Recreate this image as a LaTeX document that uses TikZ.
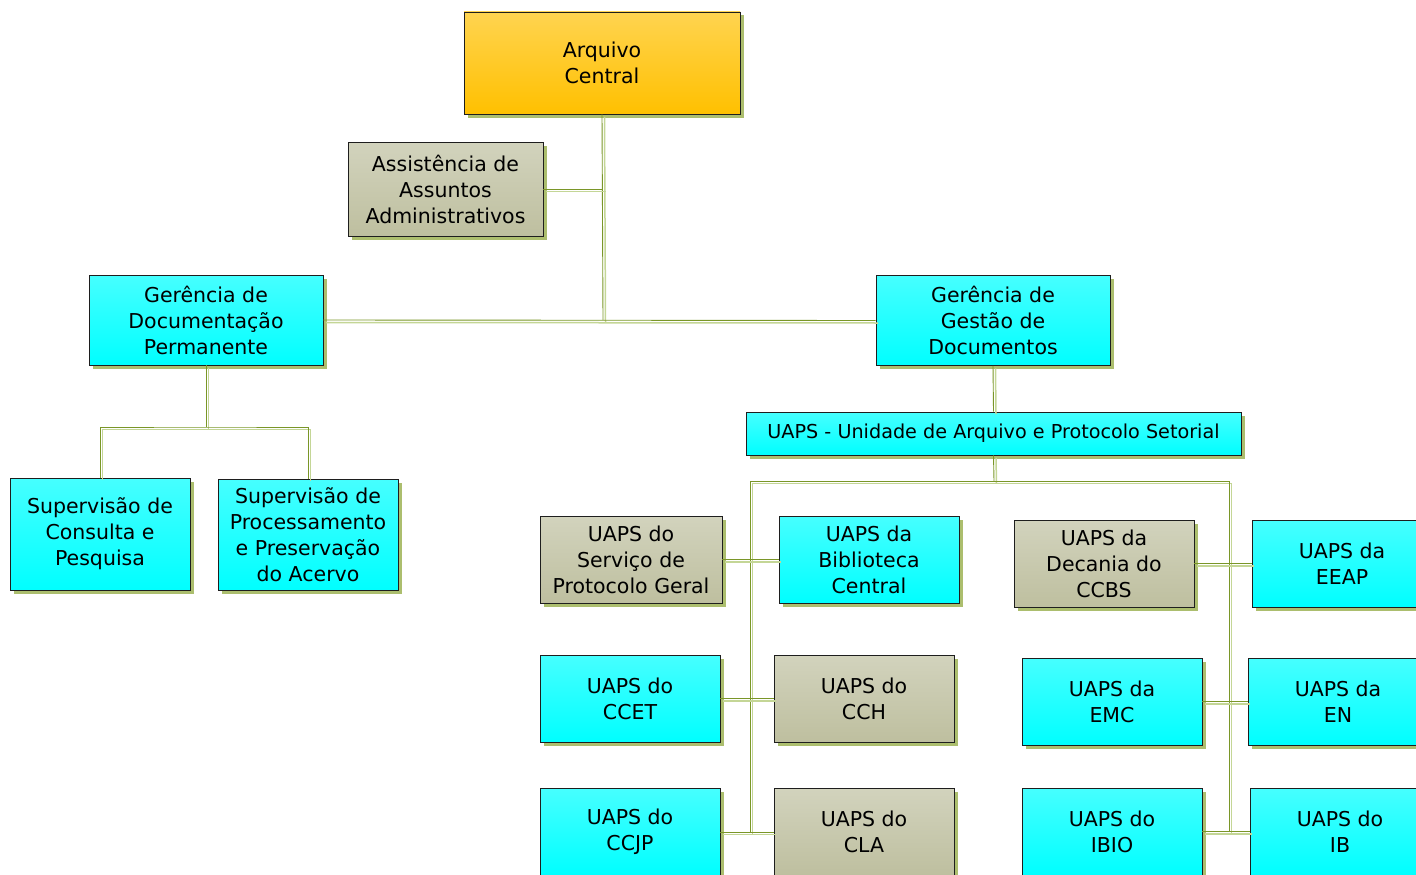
\documentclass[tikz,border=0pt]{standalone}
\usepackage{fontspec}
\setmainfont{DejaVu Sans}
\usetikzlibrary{shadows}
\definecolor{goldtop}{RGB}{255,212,80}
\definecolor{goldbot}{RGB}{255,192,0}
\definecolor{greytop}{RGB}{210,211,189}
\definecolor{greybot}{RGB}{190,191,159}
\definecolor{cyantop}{RGB}{70,255,255}
\definecolor{cyanbot}{RGB}{0,255,255}
\definecolor{shadowc}{RGB}{172,190,110}
\definecolor{darkg}{RGB}{122,150,40}
\definecolor{lightg}{RGB}{196,214,150}
\definecolor{bordc}{RGB}{30,30,30}
\tikzset{
  box/.style={draw=bordc, line width=0.8pt, inner sep=0pt, align=center,
    font=\fontsize{20.5}{26}\selectfont,
    general shadow={fill=shadowc, shadow xshift=3.5pt, shadow yshift=-3.5pt}},
  goldbox/.style={box, top color=goldtop, bottom color=goldbot},
  greybox/.style={box, top color=greytop, bottom color=greybot},
  cyanbox/.style={box, top color=cyantop, bottom color=cyanbot},
  conn/.style={draw=darkg, line width=0.9pt,
    preaction={draw=lightg, line width=1.5pt, transform canvas={shift={(2.5pt,-2.5pt)}}}},
}
\begin{document}
\begin{tikzpicture}[x=1pt,y=-1pt]
\useasboundingbox (0,0) rectangle (1416,875);
\clip (0,0) rectangle (1416,875);
\coordinate (b1) at (206,427);
\coordinate (lt) at (750,481);
\coordinate (rt) at (1229,481);
\coordinate (lb) at (750,832);
\coordinate (rb) at (1229,832);
\coordinate (tr) at (603,320);
\coordinate (uj) at (994,481);

% nodes
\node[goldbox, minimum width=276pt, minimum height=102pt] (ac) at (602,63) {Arquivo\\Central};
\node[greybox, minimum width=195pt, minimum height=94pt] (aaa) at (445.5,189) {Assistência de\\Assuntos\\Administrativos};
\node[cyanbox, minimum width=234pt, minimum height=90pt] (gdp) at (206,320) {Gerência de\\Documentação\\Permanente};
\node[cyanbox, minimum width=234pt, minimum height=90pt] (ggd) at (993,320.5) {Gerência de\\Gestão de\\Documentos};
\node[cyanbox, minimum width=495pt, minimum height=43pt, font=\fontsize{19.2}{26}\selectfont] (uaps) at (993.5,433.5) {UAPS - Unidade de Arquivo e Protocolo Setorial};
\node[cyanbox, minimum width=180pt, minimum height=112pt] (scp) at (100,534) {Supervisão de\\Consulta e\\Pesquisa};
\node[cyanbox, minimum width=180pt, minimum height=111pt] (spp) at (308,534.5) {Supervisão de\\Processamento\\e Preservação\\do Acervo};
\node[greybox, minimum width=182pt, minimum height=87pt] (spg) at (631,559.5) {UAPS do\\Serviço de\\Protocolo Geral};
\node[cyanbox, minimum width=180pt, minimum height=87pt] (bc) at (869,559.5) {UAPS da\\Biblioteca\\Central};
\node[greybox, minimum width=180pt, minimum height=87pt] (ccbs) at (1104,563.5) {UAPS da\\Decania do\\CCBS};
\node[cyanbox, minimum width=180pt, minimum height=87pt] (eeap) at (1342,563.5) {UAPS da\\EEAP};
\node[cyanbox, minimum width=180pt, minimum height=87pt] (ccet) at (630,698.5) {UAPS do\\CCET};
\node[greybox, minimum width=180pt, minimum height=87pt] (cch) at (864,698.5) {UAPS do\\CCH};
\node[cyanbox, minimum width=180pt, minimum height=87pt] (emc) at (1112,701.5) {UAPS da\\EMC};
\node[cyanbox, minimum width=180pt, minimum height=87pt] (en) at (1338,701.5) {UAPS da\\EN};
\node[cyanbox, minimum width=180pt, minimum height=87pt] (ccjp) at (630,832) {UAPS do\\CCJP};
\node[greybox, minimum width=180pt, minimum height=87pt] (cla) at (864,832) {UAPS do\\CLA};
\node[cyanbox, minimum width=180pt, minimum height=87pt] (ibio) at (1112,831.5) {UAPS do\\IBIO};
\node[cyanbox, minimum width=180pt, minimum height=87pt] (ib) at (1340,831.5) {UAPS do\\IB};

% connectors
\draw[conn] (ac.south) -- (tr);
\draw[conn] (aaa.east) -- (aaa.east -| tr);
\draw[conn] (gdp.east) -- (ggd.west);
\draw[conn] (gdp.south) -- (b1);
\draw[conn] (scp.north) |- (b1) -| (spp.north);
\draw[conn] (ggd.south) -- (uaps.north);
\draw[conn] (uaps.south) -- (uj);
\draw[conn] (lb) -- (lt) -- (rt) -- (rb);
\draw[conn] (spg.east) -- (bc.west);
\draw[conn] (ccet.east) -- (cch.west);
\draw[conn] (ccjp.east) -- (cla.west);
\draw[conn] (ccbs.east) -- (eeap.west);
\draw[conn] (emc.east) -- (en.west);
\draw[conn] (ibio.east) -- (ib.west);
\end{tikzpicture}
\end{document}
